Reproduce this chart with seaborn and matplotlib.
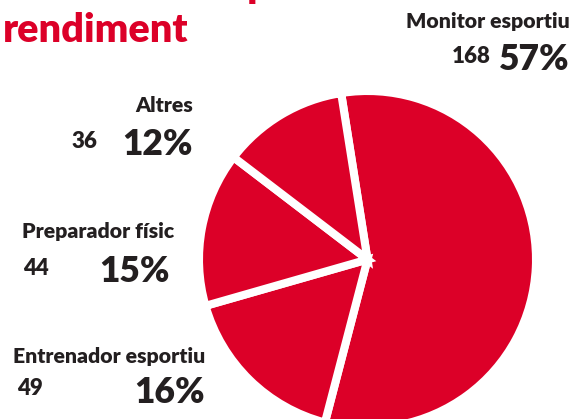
import matplotlib
matplotlib.use("Agg")
import matplotlib.pyplot as plt
import seaborn as sns

categories = ["Monitor esportiu", "Entrenador esportiu", "Preparador físic", "Altres"]
counts = [168, 49, 44, 36]
percents = ["57%", "16%", "15%", "12%"]

sns.set_theme(style="white")
plt.rcParams['font.family'] = ['Lato', 'DejaVu Sans']

RED = "#DC0028"
DARK = "#231F20"
W, H = 586, 419
fig = plt.figure(figsize=(W / 100, H / 100), dpi=100)

# pie
cx, cy, r = 367.5, 259.5, 168.5
ax = fig.add_axes([(cx - r) / W, (H - cy - r) / H, 2 * r / W, 2 * r / H])
colors = sns.color_palette([RED] * len(counts))
ax.pie(counts, colors=colors, startangle=99, counterclock=False,
       wedgeprops=dict(edgecolor="white", linewidth=5.8))
ax.set_xlim(-1, 1)
ax.set_ylim(-1, 1)
ax.set_aspect("equal")
ax.axis("off")
for p in ax.patches:
    p.set_clip_on(False)


def ftext(x, y, s, size, ha="left", color=DARK, weight="heavy"):
    fig.text(x / W, 1 - y / H, s, fontsize=size, ha=ha, va="baseline",
             color=color, fontweight=weight)

# title (first line clipped by the top edge)
ftext(3, -3, "Contractes esportius de", 28.5, color=RED)
ftext(3, 42, "rendiment", 28.5, color=RED)

# labels: (name position, count position, percent position)
layout = {
    "Monitor esportiu": ((570, 28, "right"), (452, 63), (570, 70, "right")),
    "Altres": ((193, 112, "right"), (72, 148), (193, 155, "right")),
    "Preparador físic": ((22, 238, "left"), (23, 275), (170, 282, "right")),
    "Entrenador esportiu": ((13, 363, "left"), (17, 395), (205, 403, "right")),
}
for cat, n, pct in zip(categories, counts, percents):
    (nx, ny, nha), (kx, ky), (px, py, pha) = layout[cat]
    ftext(nx, ny, cat, 15.3, ha=nha)
    ftext(kx, ky, str(n), 16)
    ftext(px, py, pct, 25.5, ha=pha)

fig.savefig("out.png", dpi=100)
